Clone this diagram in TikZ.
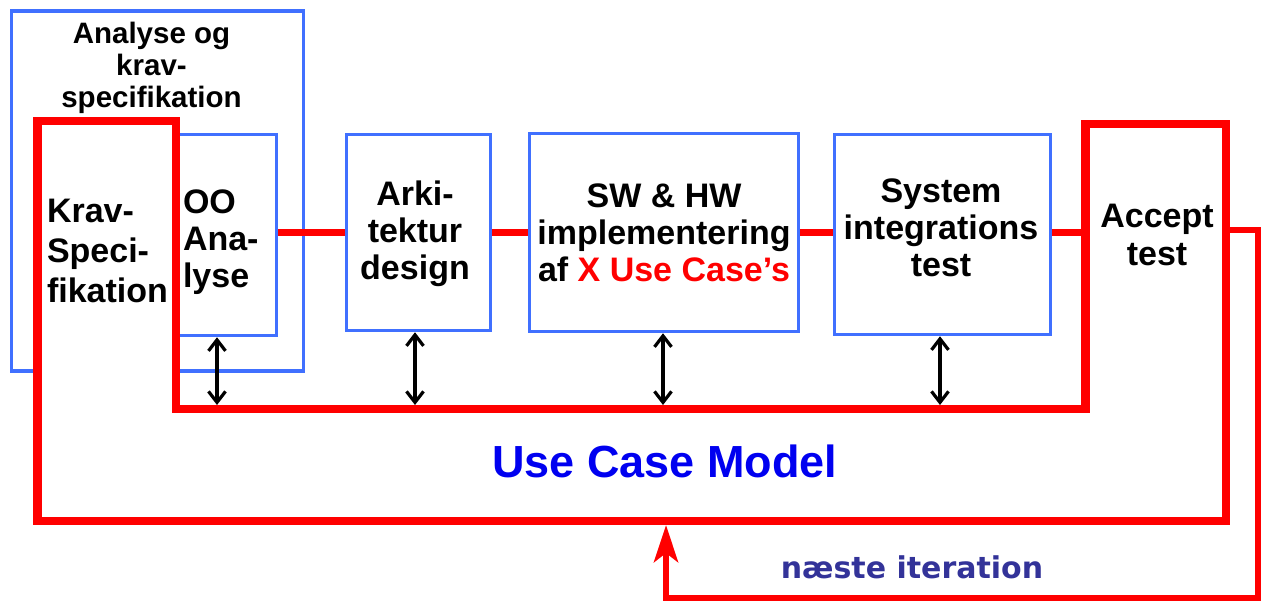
\documentclass[tikz,border=0pt]{standalone}
\usepackage{fontspec}
\setmainfont{Liberation Sans}
\newfontfamily\verdfont{DejaVu Sans}
\usetikzlibrary{arrows.meta}
\definecolor{boxblue}{RGB}{64,112,255}
\definecolor{ucmblue}{RGB}{0,0,240}
\definecolor{iterblue}{RGB}{51,51,153}
\definecolor{fred}{RGB}{255,0,0}
\newcommand\mybigfont{\fontsize{34}{37}\selectfont\bfseries}
\begin{document}
\begin{tikzpicture}[x=1pt,y=-1pt,
  bluebox/.style={draw=boxblue,line width=3.5pt,fill=white,inner sep=0pt},
  redconn/.style={draw=fred,line width=7.5pt},
  lbl/.style={inner sep=0pt,outer sep=0pt},
  dbl/.style={draw=black,line width=3.2pt,{Straight Barb[length=11pt,width=17pt]}-{Straight Barb[length=11pt,width=17pt]}}]
\fill[white] (0,0) rectangle (1264,603);
\useasboundingbox (0,0) rectangle (1264,603);
% outer analysis box
\node[bluebox,minimum width=292pt,minimum height=360pt] (outerbox) at (157.5,191) {};
\node[bluebox,minimum width=100.5pt,minimum height=201pt] (oo) at (226.25,235) {};
% red use case model polygon
\coordinate (p1) at (37.5,121);
\coordinate (p2) at (176,121);
\coordinate (p3) at (176,409);
\coordinate (p4) at (1085.5,409);
\coordinate (p5) at (1085.5,124);
\coordinate (p6) at (1226,124);
\coordinate (p7) at (1226,521);
\coordinate (p8) at (37.5,521);
\draw[fred,line width=8.5pt,fill=white,line join=miter] (p1) -- (p2) -- (p3) -- (p4) -- (p5) -- (p6) -- (p7) -- (p8) -- cycle;
% process boxes
\node[bluebox,minimum width=144pt,minimum height=196pt] (arki) at (418.5,232.5) {};
\node[bluebox,minimum width=269pt,minimum height=198pt] (sw) at (664,232.5) {};
\node[bluebox,minimum width=216pt,minimum height=200pt] (sys) at (942.5,234.5) {};
% red connectors
\coordinate (accL) at (1081.5,232.5);
\draw[redconn] (oo.east |- arki.west) -- (arki.west);
\draw[redconn] (arki.east) -- (sw.west);
\draw[redconn] (sw.east) -- (sys.west |- sw.east);
\draw[redconn] (sys.east |- sw.east) -- (accL);
% next iteration loop
\coordinate (accR) at (1230,230);
\coordinate (q1) at (1258,230);
\coordinate (q2) at (1258,598);
\coordinate (q3) at (666,598);
\coordinate (ret) at (666,525);
\draw[fred,line width=6.5pt,line join=miter,-{Stealth[length=37pt,width=24pt,inset=9pt]}] (accR) -- (q1) -- (q2) -- (q3) -- (ret);
% double arrows
\coordinate (a1) at (217,405);
\coordinate (a2) at (415,405);
\coordinate (a3) at (663,405);
\coordinate (a4) at (940,405);
\draw[dbl] (a1 |- oo.south) -- (a1);
\draw[dbl] (a2 |- arki.south) -- (a2);
\draw[dbl] (a3 |- sw.south) -- (a3);
\draw[dbl] (a4 |- sys.south) -- (a4);
% texts
\node[lbl,anchor=base] (headtxt) at (151.5,43) {\fontsize{29.5}{32}\selectfont\bfseries\begin{tabular}[t]{@{}c@{}}Analyse og\\krav-\\specifikation\end{tabular}};
\node[lbl,anchor=base west] (kravtxt) at (47,222) {\fontsize{34}{40}\selectfont\bfseries\begin{tabular}[t]{@{}l@{}}Krav-\\Speci-\\fikation\end{tabular}};
\node[lbl,anchor=base west] (ootxt) at (183,213) {\mybigfont\begin{tabular}[t]{@{}l@{}}OO\\Ana-\\lyse\end{tabular}};
\node[lbl,anchor=base] (arkitxt) at (415,205) {\mybigfont\begin{tabular}[t]{@{}c@{}}Arki-\\tektur\\design\end{tabular}};
\node[lbl,anchor=base] (swtxt) at (664,207) {\mybigfont\begin{tabular}[t]{@{}c@{}}SW \& HW\\implementering\\af \textcolor{fred}{X Use Case’s}\end{tabular}};
\node[lbl,anchor=base] (systxt) at (941,202) {\mybigfont\begin{tabular}[t]{@{}c@{}}System\\integrations\\test\end{tabular}};
\node[lbl,anchor=base] (acctxt) at (1157,227) {\fontsize{34}{38}\selectfont\bfseries\begin{tabular}[t]{@{}c@{}}Accept\\test\end{tabular}};
\node[lbl,anchor=base,text=ucmblue] (ucmtxt) at (665,477) {\fontsize{45}{50}\selectfont\bfseries Use Case Model};
\node[lbl,anchor=base,text=iterblue] (itertxt) at (912,578) {\verdfont\fontsize{30}{34}\selectfont\bfseries næste iteration};
\end{tikzpicture}
\end{document}
